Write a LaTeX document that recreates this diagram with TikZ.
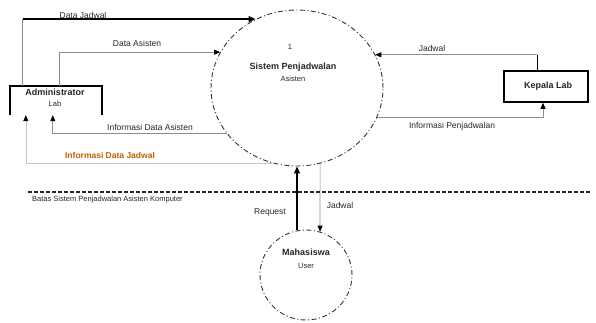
\documentclass[tikz,border=0pt]{standalone}
\usepackage{fontspec}
\setmainfont{Liberation Sans}
\usetikzlibrary{arrows.meta,shapes.geometric,calc}
\begin{document}
\begin{tikzpicture}[x=1pt,y=-1pt,
 procshape/.style={ellipse,draw=black!80,line width=0.9pt,dash pattern=on 5pt off 2.5pt on 1pt off 2.5pt,inner sep=0pt},
 entbox/.style={rectangle,draw=black,line width=1.6pt,inner sep=0pt},
 thinflow/.style={draw=black!45,line width=0.7pt,-{Triangle[length=6pt,width=5pt,color=black]}},
 thinline/.style={draw=black!45,line width=0.7pt},
 faintflow/.style={draw=black!22,line width=0.6pt,-{Triangle[length=6pt,width=5pt,color=black]}},
 thickflow/.style={draw=black,line width=1.6pt,-{Triangle[length=7pt,width=6pt]}},
 lbl/.style={font=\fontsize{8.5}{10}\selectfont,text=black!85,inner sep=0pt},
 ttl/.style={font=\bfseries\fontsize{9}{11}\selectfont,text=black!85,inner sep=0pt},
 sub/.style={font=\fontsize{7.5}{9}\selectfont,text=black!85,inner sep=0pt},
 sepl/.style={font=\fontsize{7.5}{9}\selectfont,text=black!85,inner sep=0pt},
 orangelbl/.style={font=\bfseries\fontsize{8.5}{10}\selectfont,text=orange!75!black,inner sep=0pt},
]
\useasboundingbox (0,0) rectangle (596,322);
% processes
\node[procshape,minimum width=172pt,minimum height=156pt] (sys) at (297,88) {};
\node[procshape,minimum width=92pt,minimum height=90pt] (mhs) at (306,275) {};
% entities
\node[rectangle,inner sep=0pt,minimum width=92pt,minimum height=29pt] (adm) at (56,100.5) {};
\draw[black,line width=1.6pt] (adm.south west) -- (adm.north west) -- (adm.north east) -- (adm.south east);
\node[entbox,minimum width=84pt,minimum height=31pt] (kl) at (546,86.5) {};
% texts in shapes
\node[sub] (n1) at (290,47) {1};
\node[ttl] (sysname) at (293,67) {Sistem Penjadwalan};
\node[sub] (sysname2) at (293,79) {Asisten};
\node[ttl] (admname) at (55,92) {Administrator};
\node[sub] (admname2) at (55,104) {Lab};
\node[ttl] (klname) at (548,86.5) {Kepala Lab};
\node[ttl] (mhsname) at (306,252) {Mahasiswa};
\node[sub] (mhsname2) at (306,266) {User};
% flows
\path ([xshift=13pt]adm.north west) |- (sys.121) coordinate[pos=0.5] (c1);
\draw[thinline] ([xshift=13pt]adm.north west) -- (c1);
\draw[thickflow] (c1) -- (sys.121);
\node[lbl] (l1) at (83,15) {Data Jadwal};

\draw[thinflow] ([xshift=50pt]adm.north west) |- (sys.155);
\node[lbl] (l2) at (137,43) {Data Asisten};

\draw[thinflow] (sys.213) -| ([xshift=43pt]adm.south west);
\node[lbl] (l3) at (150,127) {Informasi Data Asisten};

\draw[faintflow] (sys.252) -| ([xshift=16pt]adm.south west);
\node[orangelbl] (l4) at (110,155) {Informasi Data Jadwal};

\path ([xshift=-9pt]kl.north) |- (sys.23) coordinate[pos=0.5] (c2);
\draw[black,line width=1pt] ([xshift=-9pt]kl.north) -- (c2);
\draw[thinflow] (c2) -- (sys.23);
\node[lbl] (l5) at (432,48) {Jadwal};

\draw[thinflow] (sys.340) -| ([xshift=-3pt]kl.south);
\node[lbl] (l6) at (452,126) {Informasi Penjadwalan};

\draw[thickflow] ([xshift=-9pt]mhs.north) -- (sys.south);
\node[lbl] (l7) at (270,212) {Request};
\draw[thinflow] (sys.287) -- (mhs.72);
\node[lbl] (l8) at (340,205) {Jadwal};

% boundary
\coordinate (s1) at (28,192);
\coordinate (s2) at (592,192);
\draw[black!85,line width=1.3pt,dash pattern=on 4pt off 2pt] (s1) -- (s2);
\node[sepl,anchor=west] (bl) at (32,200) {Batas Sistem Penjadwalan Asisten Komputer};
\end{tikzpicture}
\end{document}
